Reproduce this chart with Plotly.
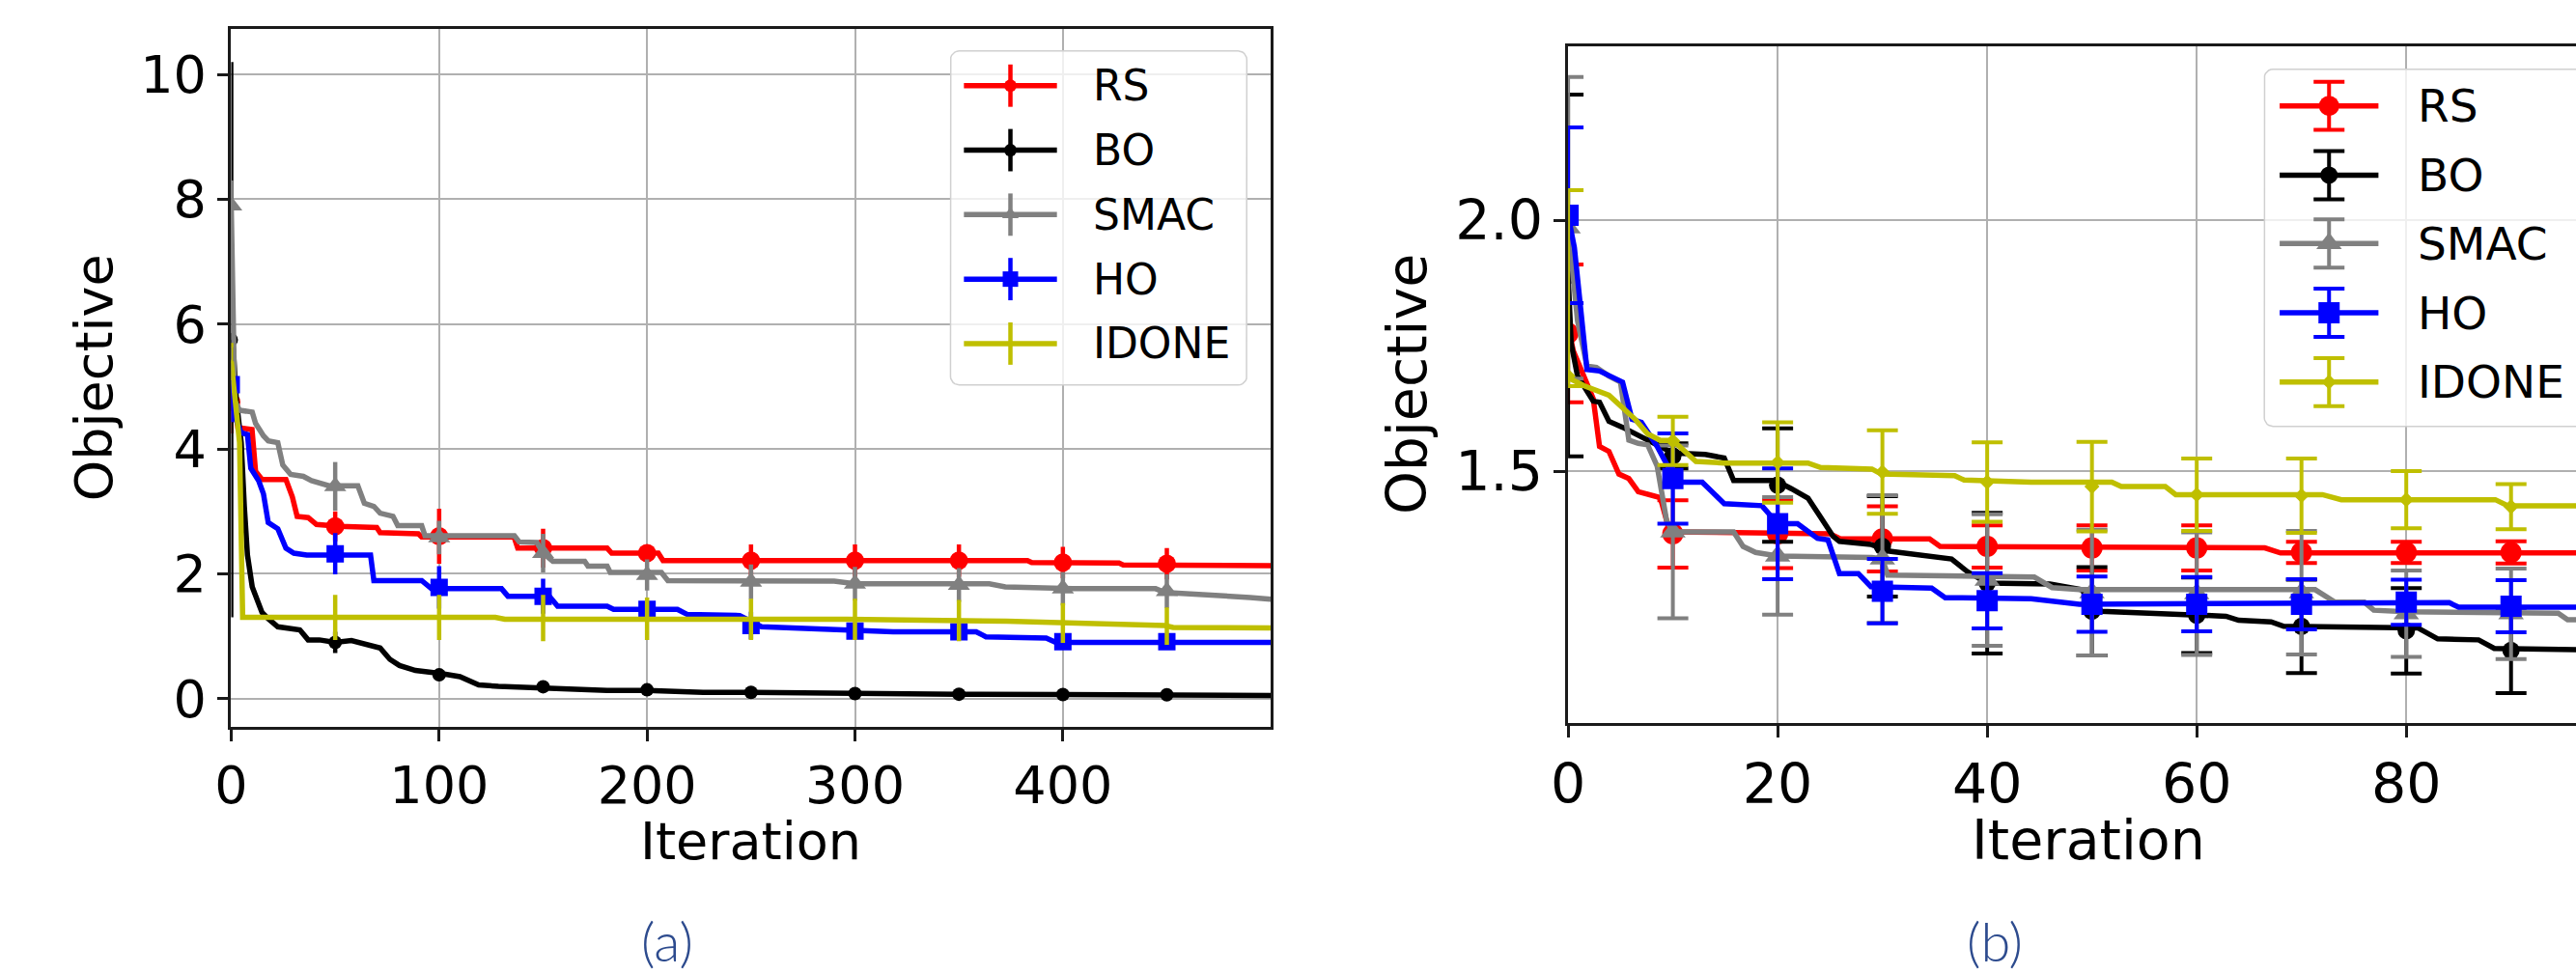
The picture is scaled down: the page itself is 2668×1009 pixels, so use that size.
import numpy as np
import plotly.graph_objects as go

W, H = 2668, 1009
FONT = "DejaVu Sans"

METHODS = ["RS", "BO", "SMAC", "HO", "IDONE"]
COLORS = {"RS": "#ff0000", "BO": "#000000", "SMAC": "#808080", "HO": "#0000ff", "IDONE": "#bfbf00"}
SYMBOLS = {"RS": "circle", "BO": "circle", "SMAC": "triangle-up", "HO": "square", "IDONE": "diamond"}

# ==================== panel (a): 500 iterations ====================
A_MARK_X = [0, 50, 100, 150, 200, 250, 300, 350, 400, 450]

A_RS_X = [0, 1, 2.5, 3.2, 10, 11.7, 14.8, 26.3, 29.4, 31.7, 37, 41, 52, 70, 71.6, 90, 91.6, 136, 137.8,
          180.8, 183, 205.4, 207.7, 383, 385, 427, 429, 500]
A_RS_Y = [4.75, 4.72, 4.52, 4.34, 4.31, 3.64, 3.51, 3.51, 3.23, 2.92, 2.90, 2.79, 2.76, 2.74, 2.66, 2.64, 2.59,
          2.59, 2.41, 2.41, 2.33, 2.33, 2.21, 2.21, 2.18, 2.17, 2.14, 2.13]
A_RS_M = [4.75, 2.76, 2.60, 2.41, 2.33, 2.21, 2.21, 2.21, 2.18, 2.16]
A_RS_E = [0.5, 0.24, 0.44, 0.31, 0.12, 0.26, 0.26, 0.26, 0.25, 0.25]

A_BO_X = [0, 1, 2.5, 4.8, 6.3, 7.8, 10.1, 12.5, 14.8, 17.8, 22.4, 33, 37, 42.4, 50, 57.8, 65.5, 71.6, 76.3,
          80.9, 88.6, 94.7, 101, 110, 119, 128.5, 150, 180.8, 200, 227, 250, 300, 350, 400, 450, 500]
A_BO_Y = [5.75, 5.6, 4.77, 4.1, 3.08, 2.30, 1.79, 1.58, 1.38, 1.28, 1.15, 1.10, 0.94, 0.94, 0.90, 0.93, 0.86,
          0.81, 0.63, 0.53, 0.45, 0.43, 0.40, 0.35, 0.22, 0.195, 0.17, 0.13, 0.13, 0.10, 0.10, 0.077, 0.067,
          0.065, 0.05, 0.05]
A_BO_M = [5.75, 0.90, 0.38, 0.19, 0.14, 0.10, 0.08, 0.07, 0.065, 0.06]
A_BO_E = [4.45, 0.17, 0.08, 0.05, 0.05, 0.04, 0.04, 0.03, 0.03, 0.03]

A_SMAC_X = [0, 1.7, 4, 10.1, 11.7, 15.5, 17.8, 22.4, 24.8, 28.6, 34.7, 38.6, 47, 60.9, 64, 68.6, 71.6, 77.8,
            80.1, 91.6, 93.2, 136.2, 138.5, 147, 150, 154.7, 170, 171.6, 180.8, 182.3, 206.9, 210, 290, 300,
            364.6, 372.3, 404.6, 444.6, 449.2, 455, 490, 500]
A_SMAC_Y = [7.9, 4.77, 4.62, 4.59, 4.41, 4.21, 4.13, 4.10, 3.74, 3.59, 3.56, 3.49, 3.41, 3.41, 3.13, 3.08, 2.97,
            2.92, 2.77, 2.77, 2.61, 2.61, 2.51, 2.50, 2.33, 2.20, 2.20, 2.12, 2.12, 2.02, 2.02, 1.89, 1.88, 1.84,
            1.84, 1.79, 1.76, 1.76, 1.70, 1.69, 1.62, 1.59]
A_SMAC_M = [7.9, 3.40, 2.58, 2.33, 1.98, 1.87, 1.84, 1.82, 1.76, 1.72]
A_SMAC_E = [0.4, 0.39, 0.27, 0.31, 0.25, 0.28, 0.27, 0.27, 0.27, 0.27]

A_HO_X = [0, 1.7, 3.2, 4.8, 7.8, 9.4, 13.2, 15.5, 17.8, 22.4, 26.3, 30.1, 36.3, 67, 68.6, 91.6, 96.3, 130, 133.1,
          153, 157, 180.8, 183.9, 214.6, 219.2, 244.6, 255, 296, 318.3, 358.3, 363, 392, 396.6, 500]
A_HO_Y = [5.03, 4.52, 4.39, 4.26, 4.23, 3.69, 3.49, 3.28, 2.82, 2.72, 2.41, 2.33, 2.30, 2.30, 1.89, 1.89, 1.76,
          1.76, 1.64, 1.64, 1.48, 1.48, 1.43, 1.43, 1.35, 1.33, 1.15, 1.10, 1.07, 1.07, 0.99, 0.97, 0.90, 0.90]
A_HO_M = [5.03, 2.32, 1.78, 1.64, 1.43, 1.17, 1.08, 1.07, 0.91, 0.91]
A_HO_E = [0.6, 0.33, 0.34, 0.28, 0.1, 0.22, 0.12, 0.1, 0.08, 0.08]

A_IDONE_X = [0, 1.7, 4, 5.5, 127, 131.6, 296, 373, 412, 449, 453, 500]
A_IDONE_Y = [5.4, 4.77, 4.1, 1.30, 1.30, 1.27, 1.27, 1.24, 1.20, 1.17, 1.14, 1.13]
A_IDONE_M = [5.4, 1.30, 1.30, 1.29, 1.28, 1.27, 1.27, 1.25, 1.21, 1.16]
A_IDONE_E = [0.3, 0.36, 0.36, 0.37, 0.34, 0.33, 0.33, 0.33, 0.32, 0.3]

# ==================== panel (b): 100 iterations ====================
B_MARK_X = [0, 10, 20, 30, 40, 50, 60, 70, 80, 90]

B_RS_X = [0, 0.5, 1.5, 2.4, 3.0, 3.9, 4.85, 5.8, 6.7, 8.8, 9.7, 25, 26, 34.5, 35.5, 66.5, 68, 100]
B_RS_Y = [1.79, 1.74, 1.69, 1.645, 1.55, 1.54, 1.495, 1.486, 1.46, 1.448, 1.38, 1.376, 1.366, 1.366, 1.351,
          1.348, 1.338, 1.338]
B_RS_M = [1.775, 1.376, 1.376, 1.366, 1.351, 1.348, 1.348, 1.339, 1.339, 1.339]
B_RS_E = [0.137, 0.067, 0.068, 0.065, 0.042, 0.045, 0.045, 0.021, 0.021, 0.022]

B_BO_X = [0, 0.3, 0.9, 2.4, 3.0, 3.9, 5.2, 6.4, 7.6, 8.8, 10, 13.1, 14.9, 15.8, 19.8, 21.3, 22.9, 24.1, 25.3,
          25.9, 28.9, 30.5, 36.6, 38.1, 40, 46, 49, 50.9, 59.8, 62.8, 64, 67.1, 68.3, 81.1, 83, 86.9, 88.4, 100]
B_BO_Y = [1.89, 1.754, 1.69, 1.64, 1.638, 1.60, 1.588, 1.575, 1.562, 1.55, 1.537, 1.534, 1.527, 1.482, 1.482,
          1.466, 1.447, 1.409, 1.371, 1.361, 1.355, 1.342, 1.326, 1.301, 1.278, 1.276, 1.265, 1.222, 1.214,
          1.212, 1.204, 1.201, 1.192, 1.189, 1.167, 1.165, 1.148, 1.144]
B_BO_M = [1.89, 1.531, 1.473, 1.351, 1.278, 1.222, 1.214, 1.192, 1.183, 1.144]
B_BO_E = [0.36, 0.025, 0.113, 0.10, 0.14, 0.088, 0.075, 0.093, 0.085, 0.085]

B_SMAC_X = [0, 0.13, 0.9, 1.8, 2.7, 3.9, 5.0, 5.8, 6.7, 7.6, 8.5, 9.4, 10, 15.8, 16.7, 17.9, 20, 29, 30, 30.5,
            44.5, 46.2, 48.8, 71.3, 73.2, 76, 76.9, 80, 94.5, 95.4, 100]
B_SMAC_Y = [1.985, 1.964, 1.80, 1.71, 1.707, 1.69, 1.678, 1.5625, 1.556, 1.553, 1.511, 1.403, 1.38, 1.38, 1.351,
            1.339, 1.332, 1.329, 1.326, 1.294, 1.29, 1.269, 1.265, 1.265, 1.24, 1.24, 1.224, 1.221, 1.218, 1.205,
            1.205]
B_SMAC_M = [1.985, 1.38, 1.332, 1.326, 1.284, 1.259, 1.257, 1.259, 1.217, 1.217]
B_SMAC_E = [0.30, 0.172, 0.117, 0.127, 0.131, 0.125, 0.122, 0.123, 0.086, 0.09]

B_HO_X = [0, 0.6, 1.8, 3.0, 5.2, 6.1, 7.0, 8.5, 10, 10.7, 12.8, 14.9, 18.5, 20, 21.9, 23.8, 24.8, 25.9, 27.7,
          28.9, 34.7, 36, 44.2, 48.8, 84.1, 85, 100]
B_HO_Y = [2.01, 1.946, 1.703, 1.70, 1.678, 1.604, 1.598, 1.55, 1.492, 1.479, 1.479, 1.436, 1.432, 1.396, 1.396,
          1.367, 1.364, 1.297, 1.297, 1.271, 1.268, 1.249, 1.247, 1.236, 1.239, 1.23, 1.23]
B_HO_M = [2.01, 1.486, 1.396, 1.262, 1.243, 1.236, 1.236, 1.236, 1.24, 1.232]
B_HO_E = [0.175, 0.09, 0.11, 0.064, 0.055, 0.055, 0.054, 0.05, 0.045, 0.052]

B_IDONE_X = [0, 1.5, 3.9, 5.2, 6.4, 7.6, 8.8, 10, 11.3, 12.2, 14.9, 22.9, 24.1, 29, 29.9, 36.9, 37.8, 44.2,
             51.9, 52.8, 57, 58, 72, 73.8, 88.5, 89.7, 100]
B_IDONE_Y = [1.687, 1.671, 1.652, 1.626, 1.604, 1.575, 1.562, 1.562, 1.536, 1.52, 1.517, 1.517, 1.508, 1.505,
             1.495, 1.492, 1.483, 1.479, 1.479, 1.47, 1.47, 1.454, 1.454, 1.444, 1.444, 1.432, 1.432]
B_IDONE_M = [1.69, 1.561, 1.518, 1.499, 1.479, 1.470, 1.454, 1.452, 1.444, 1.430]
B_IDONE_E = [0.37, 0.048, 0.08, 0.083, 0.079, 0.089, 0.072, 0.074, 0.057, 0.045]
B_IDONE_E_LOW = [0.02, 0.048, 0.08, 0.083, 0.079, 0.089, 0.072, 0.074, 0.057, 0.045]

PANEL_A = {
    "RS": (A_RS_X, A_RS_Y, A_RS_M, A_RS_E, A_RS_E),
    "BO": (A_BO_X, A_BO_Y, A_BO_M, A_BO_E, A_BO_E),
    "SMAC": (A_SMAC_X, A_SMAC_Y, A_SMAC_M, A_SMAC_E, A_SMAC_E),
    "HO": (A_HO_X, A_HO_Y, A_HO_M, A_HO_E, A_HO_E),
    "IDONE": (A_IDONE_X, A_IDONE_Y, A_IDONE_M, A_IDONE_E, A_IDONE_E),
}
PANEL_B = {
    "RS": (B_RS_X, B_RS_Y, B_RS_M, B_RS_E, B_RS_E),
    "BO": (B_BO_X, B_BO_Y, B_BO_M, B_BO_E, B_BO_E),
    "SMAC": (B_SMAC_X, B_SMAC_Y, B_SMAC_M, B_SMAC_E, B_SMAC_E),
    "HO": (B_HO_X, B_HO_Y, B_HO_M, B_HO_E, B_HO_E),
    "IDONE": (B_IDONE_X, B_IDONE_Y, B_IDONE_M, B_IDONE_E, B_IDONE_E_LOW),
}

# marker sizes per panel
SIZE_A = {"RS": 19, "BO": 14, "SMAC": 20, "HO": 18, "IDONE": 3}
SIZE_B = {"RS": 22, "BO": 18, "SMAC": 23, "HO": 22, "IDONE": 12}


def px(x):
    return x / W


def py(y):
    return 1 - y / H


def add_panel(fig, data, mark_x, xa, ya, sizes, lw, eb_w, eb_cap):
    for m in METHODS:
        lx, ly, my, me, me_low = data[m]
        c = COLORS[m]
        fig.add_trace(go.Scatter(
            x=lx, y=ly, mode="lines", line=dict(color=c, width=lw),
            xaxis=xa, yaxis=ya, showlegend=False, hoverinfo="skip",
        ))
        fig.add_trace(go.Scatter(
            x=mark_x, y=my, mode="markers",
            marker=dict(symbol=SYMBOLS[m], size=sizes[m], color=c, line=dict(width=0)),
            error_y=dict(type="data", array=me, arrayminus=me_low, symmetric=False, visible=True,
                         color=c, thickness=eb_w, width=eb_cap),
            xaxis=xa, yaxis=ya, showlegend=False, hoverinfo="skip",
        ))


def rounded_box(x0, y0, x1, y1, r):
    xs, ys = [], []
    for cx, cy, a0, a1 in [(x1 - r, y0 + r, 90, 0), (x1 - r, y1 - r, 0, -90),
                           (x0 + r, y1 - r, -90, -180), (x0 + r, y0 + r, 180, 90)]:
        a = np.radians(np.linspace(a0, a1, 7))
        xs += list(cx + r * np.cos(a))
        ys += list(cy - r * np.sin(a))
    return xs + [xs[0]], ys + [ys[0]]


def add_legend(fig, box, rows_y, x0, x1, text_x, half, cap, sizes, lw, eb_w, font_size):
    bx, by = rounded_box(*box, 9)
    fig.add_trace(go.Scatter(
        x=bx, y=by, mode="lines", fill="toself", fillcolor="rgba(255,255,255,0.8)",
        line=dict(color="#d0d0d0", width=1.5), xaxis="x3", yaxis="y3",
        showlegend=False, hoverinfo="skip",
    ))
    xc = (x0 + x1) / 2
    for m, yc in zip(METHODS, rows_y):
        c = COLORS[m]
        fig.add_trace(go.Scatter(
            x=[x0, x1], y=[yc, yc], mode="lines", line=dict(color=c, width=lw),
            xaxis="x3", yaxis="y3", showlegend=False, hoverinfo="skip",
        ))
        fig.add_trace(go.Scatter(
            x=[xc], y=[yc], mode="markers",
            marker=dict(symbol=SYMBOLS[m], size=sizes[m], color=c, line=dict(width=0)),
            error_y=dict(type="data", array=[half], visible=True, color=c, thickness=eb_w, width=cap),
            xaxis="x3", yaxis="y3", showlegend=False, hoverinfo="skip",
        ))
        fig.add_annotation(
            x=px(text_x), y=py(yc), xref="paper", yref="paper", text=m, showarrow=False,
            xanchor="left", yanchor="middle", font=dict(family=FONT, size=font_size, color="#000000"),
        )


fig = go.Figure()
add_panel(fig, PANEL_A, A_MARK_X, "x", "y", SIZE_A, lw=5.5, eb_w=4.5, eb_cap=0)
add_panel(fig, PANEL_B, B_MARK_X, "x2", "y2", SIZE_B, lw=5.5, eb_w=4, eb_cap=16)

add_legend(fig, (973, 53, 1282, 400), [89, 156, 223, 290, 357], 987, 1084, 1120, 22, 0,
           {"RS": 13, "BO": 13, "SMAC": 15, "HO": 16, "IDONE": 1}, 5.5, 4.5, 44)
add_legend(fig, (2343, 72, 2720, 443), [110, 182, 253, 325, 397], 2359, 2462, 2501, 25, 16,
           {"RS": 21, "BO": 18, "SMAC": 23, "HO": 22, "IDONE": 12}, 5.5, 4, 47)

axis_common = dict(
    showgrid=True, gridcolor="#b0b0b0", gridwidth=2, zeroline=False,
    showline=True, linecolor="#1a1a1a", linewidth=2.5,
    ticks="outside", ticklen=12, tickwidth=2.5, tickcolor="#1a1a1a",
)

fig.update_layout(
    width=W, height=H, autosize=False,
    margin=dict(l=0, r=0, t=0, b=0),
    paper_bgcolor="#ffffff", plot_bgcolor="rgba(0,0,0,0)",
    showlegend=False,
    font=dict(family=FONT, color="#000000"),
    xaxis=dict(domain=[px(223), px(1307)], range=[0, 500], tickvals=[0, 100, 200, 300, 400],
               mirror=True, anchor="y", tickfont=dict(size=54), **axis_common),
    yaxis=dict(domain=[py(755), py(30)], range=[-0.45, 10.73], tickvals=[0, 2, 4, 6, 8, 10],
               mirror=True, anchor="x", tickfont=dict(size=54), **axis_common),
    xaxis2=dict(domain=[px(1617), 1.0], range=[0, 96.2], tickvals=[0, 20, 40, 60, 80],
                mirror=True, anchor="y2", tickfont=dict(size=57), **axis_common),
    yaxis2=dict(domain=[py(751), py(47.7)], range=[1.0, 2.347], tickvals=[1.5, 2.0], ticktext=["1.5", "2.0"],
                mirror=False, anchor="x2", tickfont=dict(size=57), **axis_common),
    xaxis3=dict(domain=[0, 1], range=[0, W], visible=False, anchor="y3", fixedrange=True),
    yaxis3=dict(domain=[0, 1], range=[H, 0], visible=False, anchor="x3", fixedrange=True),
)

# axis titles
for text, x, y, size, angle in [
    ("Objective", 80, 392, 54, -90),
    ("Iteration", 765, 874, 54, 0),
    ("Objective", 1449, 399, 57, -90),
    ("Iteration", 2160, 873, 57, 0),
]:
    fig.add_annotation(x=px(x), y=py(y), xref="paper", yref="paper", text=text, showarrow=False,
                       textangle=angle, xanchor="center", yanchor="middle",
                       font=dict(family=FONT, size=size, color="#000000"))

# captions
for text, x in [("(a)", 678), ("(b)", 2062)]:
    fig.add_annotation(x=px(x), y=py(977), xref="paper", yref="paper", text=text, showarrow=False,
                       xanchor="center", yanchor="middle",
                       font=dict(family="Lato", size=56, color="#2d4b8e", weight=300))

fig.write_html("out.html", config={"displayModeBar": False},
               post_script="document.body.style.margin='0';document.body.style.overflow='hidden';")
